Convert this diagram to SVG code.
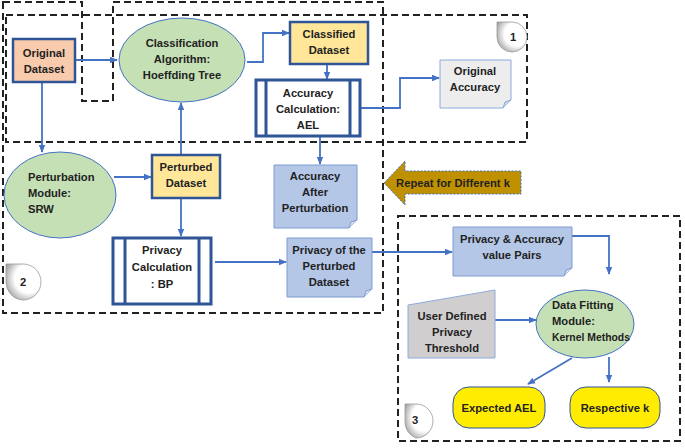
<svg xmlns="http://www.w3.org/2000/svg" width="685" height="448" viewBox="0 0 685 448">
<style>
text{font-family:"Liberation Sans",Arial,sans-serif;font-weight:bold;font-size:11.2px;fill:#222;text-anchor:middle}
.dash{fill:none;stroke:#222;stroke-width:2;stroke-dasharray:7,4}
.c{fill:none;stroke:#4472c4;stroke-width:1.8}
.ell{fill:#c5e0b4;stroke:#4472c4;stroke-width:1}
.yb{fill:#ffe699;stroke:#2f5597;stroke-width:2.5}
.doc{fill:#b4c7e7;stroke:#7f9bd0;stroke-width:1}
.pr{fill:#fff;stroke:#2f5597;stroke-width:3}
.term{fill:#ffec00;stroke:#2f5597;stroke-width:1}
.badge{fill:url(#g);stroke:#999;stroke-width:0.8}
</style>
<defs>
<marker id="a" markerWidth="8" markerHeight="8" refX="7" refY="4" orient="auto" markerUnits="userSpaceOnUse"><path d="M0,0.8 L8,4 L0,7.2z" fill="#4472c4"/></marker>
<radialGradient id="g" cx="0.65" cy="0.4" r="0.8"><stop offset="0.5" stop-color="#fff"/><stop offset="1" stop-color="#8a8a8a"/></radialGradient>
</defs>
<g id="regions">
<rect class="dash" x="6" y="15" width="521" height="127"/>
<path class="dash" d="M3,2 H82 V101 H113 V2 H383 V313 H3 Z"/>
<rect class="dash" x="398" y="216" width="282" height="225"/>
</g>
<g id="badges">
<g id="badge1"><path class="badge" d="M497,22 H512 A15,15 0 0 1 512,52 A15,15 0 0 1 497,37 Z"/><text x="513" y="41">1</text></g>
<g id="badge2"><path class="badge" d="M6,264 H23 A18,18 0 0 1 23,300 A18,18 0 0 1 6,282 Z"/><text x="23" y="286">2</text></g>
<g id="badge3"><path class="badge" d="M405,404 H416 A17,17 0 0 1 416,438 A17,17 0 0 1 405,421 Z"/><text x="415" y="424">3</text></g>
</g>
<g id="connectors">
<path class="c" d="M75,60 H117" marker-end="url(#a)"/>
<path class="c" d="M247,62 H263 V33 H289" marker-end="url(#a)"/>
<path class="c" d="M327,64 V79" marker-end="url(#a)"/>
<path class="c" d="M360,108 H400 V78 H439" marker-end="url(#a)"/>
<path class="c" d="M320,137 V164" marker-end="url(#a)"/>
<path class="c" d="M42,82 V152" marker-end="url(#a)"/>
<path class="c" d="M114,177 H151" marker-end="url(#a)"/>
<path class="c" d="M181,155 V103" marker-end="url(#a)"/>
<path class="c" d="M181,198 V236" marker-end="url(#a)"/>
<path class="c" d="M215,262 H286" marker-end="url(#a)"/>
<path class="c" d="M372,252 H452" marker-end="url(#a)"/>
<path class="c" d="M572,236 H609 V274" marker-end="url(#a)"/>
<path class="c" d="M495,320 H536" marker-end="url(#a)"/>
<path class="c" d="M572,358 L528,384" marker-end="url(#a)"/>
<path class="c" d="M609,357 V382" marker-end="url(#a)"/>
</g>
<g id="original-dataset"><rect x="13" y="39" width="62" height="43" fill="#f8cbad" stroke="#2f5597" stroke-width="2.5"/><text x="44" y="57">Original</text><text x="44" y="73">Dataset</text></g>
<g id="classification"><ellipse class="ell" cx="182" cy="60" rx="63" ry="42"/><text x="182" y="47">Classification</text><text x="182" y="63">Algorithm:</text><text x="182" y="79">Hoeffding Tree</text></g>
<g id="classified"><rect class="yb" x="290" y="22" width="78" height="42"/><text x="329" y="38">Classified</text><text x="329" y="54">Dataset</text></g>
<g id="accuracy-calc"><rect class="pr" x="256" y="80" width="104" height="56"/><line x1="266" y1="80" x2="266" y2="136" stroke="#2f5597" stroke-width="3"/><line x1="350" y1="80" x2="350" y2="136" stroke="#2f5597" stroke-width="3"/><text x="308" y="97">Accuracy</text><text x="308" y="113">Calculation:</text><text x="308" y="129">AEL</text></g>
<g id="original-accuracy"><path d="M440,60 H511 V100 L503,108 H440 Z" fill="#ededed" stroke="#8faadc"/><path d="M503,108 L505,102 L511,100" fill="#c9d6ee" stroke="#8faadc"/><text x="475" y="75">Original</text><text x="475" y="91">Accuracy</text></g>
<g id="perturbation"><ellipse class="ell" cx="60" cy="195" rx="56" ry="43"/><text x="28" y="181" style="text-anchor:start">Perturbation</text><text x="28" y="197" style="text-anchor:start">Module:</text><text x="28" y="213" style="text-anchor:start">SRW</text></g>
<g id="perturbed"><rect class="yb" x="152" y="155" width="68" height="43"/><text x="186" y="171">Perturbed</text><text x="186" y="187">Dataset</text></g>
<g id="accuracy-after"><path class="doc" d="M274,165 H357 V220 L349,228 H274 Z"/><path d="M349,228 L351,222 L357,220" fill="#d6e0f2" stroke="#7f9bd0"/><text x="315" y="180">Accuracy</text><text x="315" y="196">After</text><text x="315" y="212">Perturbation</text></g>
<g id="privacy-calc"><rect class="pr" x="113" y="238" width="98" height="66"/><line x1="125" y1="238" x2="125" y2="304" stroke="#2f5597" stroke-width="3"/><line x1="199" y1="238" x2="199" y2="304" stroke="#2f5597" stroke-width="3"/><text x="162" y="254">Privacy</text><text x="162" y="271">Calculation</text><text x="162" y="288">: BP</text></g>
<g id="privacy-perturbed"><path class="doc" d="M287,238 H372 V289 L364,297 H287 Z"/><path d="M364,297 L366,291 L372,289" fill="#d6e0f2" stroke="#7f9bd0"/><text x="329" y="254">Privacy of the</text><text x="329" y="270">Perturbed</text><text x="329" y="286">Dataset</text></g>
<g id="repeat"><path d="M384,183 L405,161 V171 H521 V194 H405 V205 Z" fill="#bf9000" stroke="#4472c4" stroke-dasharray="2,1.5"/><text x="453" y="187">Repeat for Different k</text></g>
<g id="pairs"><path class="doc" d="M453,227 H572 V268 L564,276 H453 Z"/><path d="M564,276 L566,270 L572,268" fill="#d6e0f2" stroke="#7f9bd0"/><text x="512" y="243">Privacy &amp; Accuracy</text><text x="512" y="259">value Pairs</text></g>
<g id="threshold"><path d="M408,305 L495,290 V358 H408 Z" fill="#d0cece" stroke="#8faadc"/><text x="452" y="320">User Defined</text><text x="452" y="336">Privacy</text><text x="452" y="352">Threshold</text></g>
<g id="data-fitting"><ellipse class="ell" cx="585" cy="324" rx="49" ry="34"/><text x="552" y="309" style="text-anchor:start">Data Fitting</text><text x="552" y="325" style="text-anchor:start">Module:</text><text x="552" y="341" style="text-anchor:start" textLength="78" lengthAdjust="spacingAndGlyphs">Kernel Methods</text></g>
<g id="expected-ael"><rect class="term" x="453" y="387" width="92" height="41" rx="16"/><text x="499" y="412">Expected AEL</text></g>
<g id="respective-k"><rect class="term" x="570" y="387" width="90" height="41" rx="16"/><text x="615" y="412">Respective k</text></g>
</svg>
